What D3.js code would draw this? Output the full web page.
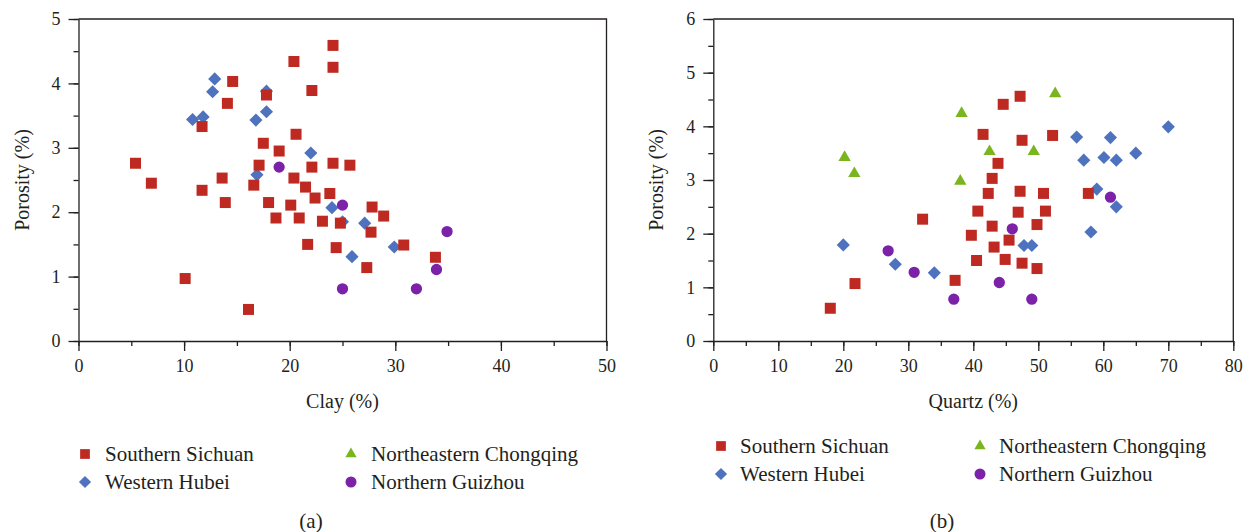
<!DOCTYPE html>
<html>
<head>
<meta charset="utf-8">
<script src="https://cdn.jsdelivr.net/npm/d3@7"></script>
<style>
  html, body { margin: 0; padding: 0; background: #fff; }
  svg { display: block; font-family: 'Liberation Serif', 'Times New Roman', serif; }
  svg text { font-family: 'Liberation Serif', 'Times New Roman', serif !important; fill: #231f20; }
</style>
</head>
<body>
<svg id="chart" width="1251" height="532"></svg>
<script>
// ---------------- DATA ----------------
const seriesNames = ["Southern Sichuan", "Western Hubei", "Northeastern Chongqing", "Northern Guizhou"];

// Panel (a): [clay %, porosity %]
const clayPorositySouthernSichuan = [
  [5.4,2.76],[6.9,2.45],[10.1,0.97],[11.7,3.33],[11.7,2.34],[13.6,2.53],[13.9,2.15],[14.1,3.69],
  [14.6,4.03],[16.1,0.49],[16.6,2.42],[17.1,2.73],[17.5,3.07],[17.8,3.82],[18.0,2.15],[18.7,1.91],
  [19.0,2.95],[20.1,2.11],[20.4,4.34],[20.4,2.53],[20.6,3.21],[20.9,1.91],[21.5,2.39],[21.7,1.50],
  [22.1,3.89],[22.1,2.70],[22.4,2.22],[23.1,1.86],[23.8,2.29],[24.1,4.59],[24.1,4.25],[24.1,2.76],
  [24.4,1.45],[24.8,1.83],[25.7,2.73],[27.3,1.14],[27.7,1.69],[27.8,2.08],[28.9,1.94],[30.8,1.49],
  [33.8,1.30]
];
const clayPorosityWesternHubei = [
  [10.8,3.44],[11.8,3.48],[12.7,3.87],[12.9,4.07],[16.8,3.43],[16.9,2.58],[17.8,3.88],[17.8,3.56],
  [22.0,2.92],[24.0,2.07],[25.0,1.85],[25.9,1.31],[27.1,1.83],[29.9,1.46]
];
const clayPorosityNortheasternChongqing = [];
const clayPorosityNorthernGuizhou = [
  [19.0,2.70],[25.0,2.11],[25.0,0.81],[32.0,0.81],[33.9,1.11],[34.9,1.70]
];

// Panel (b): [quartz %, porosity %]
const quartzPorositySouthernSichuan = [
  [18.0,0.61],[21.8,1.07],[32.2,2.27],[37.2,1.13],[39.7,1.97],[40.5,1.50],[40.7,2.42],[41.5,3.85],
  [42.3,2.75],[42.9,3.03],[42.9,2.14],[43.2,1.75],[43.8,3.31],[44.6,4.41],[44.9,1.52],[45.5,1.88],
  [46.9,2.40],[47.2,4.56],[47.2,2.79],[47.5,3.74],[47.5,1.45],[49.8,2.17],[49.8,1.35],[50.8,2.75],
  [51.1,2.42],[52.2,3.83],[57.7,2.75]
];
const quartzPorosityWesternHubei = [
  [20.0,1.79],[28.0,1.43],[34.0,1.27],[47.8,1.78],[49.0,1.78],[55.9,3.80],[57.0,3.37],[58.1,2.03],
  [59.0,2.83],[60.1,3.42],[61.1,3.79],[62.0,3.37],[62.0,2.50],[65.0,3.50],[70.0,3.99]
];
const quartzPorosityNortheasternChongqing = [
  [20.2,3.42],[21.7,3.12],[38.0,2.98],[38.2,4.24],[42.5,3.53],[49.3,3.53],[52.6,4.61]
];
const quartzPorosityNorthernGuizhou = [
  [26.9,1.68],[30.9,1.28],[37.0,0.78],[44.0,1.09],[46.0,2.09],[49.0,0.78],[61.1,2.68]
];

// Tick values
const clayTicks = [0, 10, 20, 30, 40, 50];
const quartzTicks = [0, 10, 20, 30, 40, 50, 60, 70, 80];
const porosityTicksA = [0, 1, 2, 3, 4, 5];
const porosityTicksB = [0, 1, 2, 3, 4, 5, 6];

// ---------------- STYLE ----------------
const FONT = "'Liberation Serif', 'Times New Roman', serif";
const colors = {
  "Southern Sichuan": "#be2a22",
  "Western Hubei": "#4e72be",
  "Northeastern Chongqing": "#7ab51e",
  "Northern Guizhou": "#7b22a8"
};
const symbols = {
  "Southern Sichuan": d3.symbolSquare,
  "Western Hubei": d3.symbolDiamond2,
  "Northeastern Chongqing": d3.symbolTriangle,
  "Northern Guizhou": d3.symbolCircle
};
const symSize = {
  "Southern Sichuan": 121,
  "Western Hubei": 110,
  "Northeastern Chongqing": 66,
  "Northern Guizhou": 100
};
const drawOrder = ["Western Hubei", "Southern Sichuan", "Northeastern Chongqing", "Northern Guizhou"];

const svg = d3.select("#chart");
const axisColor = "#231f20";

function panel(cfg) {
  const x = d3.scaleLinear().domain(cfg.xDomain).range([cfg.left, cfg.right]);
  const y = d3.scaleLinear().domain(cfg.yDomain).range([cfg.bottom, cfg.top]);
  const g = svg.append("g");

  // frame (top & right)
  g.append("path")
    .attr("d", `M${cfg.left},${cfg.top}H${cfg.right}V${cfg.bottom}`)
    .attr("fill", "none").attr("stroke", axisColor).attr("stroke-width", 1.3);

  // minor ticks
  const xMinor = d3.range(cfg.xDomain[0], cfg.xDomain[1] + 0.001, cfg.xMinorStep);
  const yMinor = d3.range(cfg.yDomain[0], cfg.yDomain[1] + 0.001, cfg.yMinorStep);

  const xAxis = d3.axisBottom(x).tickValues(xMinor).tickSize(5).tickFormat("");
  const yAxis = d3.axisLeft(y).tickValues(yMinor).tickSize(5).tickFormat("");
  g.append("g").attr("transform", `translate(0,${cfg.bottom})`).call(xAxis).call(s => s.select(".domain").remove())
    .selectAll("line").attr("stroke", axisColor).attr("stroke-width", 1.3);
  g.append("g").attr("transform", `translate(${cfg.left},0)`).call(yAxis).call(s => s.select(".domain").remove())
    .selectAll("line").attr("stroke", axisColor).attr("stroke-width", 1.3);

  // major ticks + labels
  const fmt = d3.format("d");
  const xMaj = g.append("g").attr("transform", `translate(0,${cfg.bottom})`)
    .call(d3.axisBottom(x).tickValues(cfg.xTicks).tickFormat(fmt).tickSize(10).tickPadding(8).tickSizeOuter(0));
  const yMaj = g.append("g").attr("transform", `translate(${cfg.left},0)`)
    .call(d3.axisLeft(y).tickValues(cfg.yTicks).tickFormat(fmt).tickSize(10).tickPadding(8).tickSizeOuter(0));
  [xMaj, yMaj].forEach(a => {
    a.attr("font-family", FONT).attr("font-size", 18);
    a.select(".domain").attr("stroke", axisColor).attr("stroke-width", 1.3);
    a.selectAll("line").attr("stroke", axisColor).attr("stroke-width", 1.3);
    a.selectAll("text").attr("font-family", FONT).attr("font-size", 18).attr("fill", "#231f20");
  });

  // axis titles
  g.append("text").attr("x", (cfg.left + cfg.right) / 2).attr("y", cfg.bottom + 67)
    .attr("text-anchor", "middle").attr("font-family", FONT).attr("font-size", 20).text(cfg.xTitle);
  g.append("text").attr("transform", `translate(${cfg.yTitleX},${(cfg.top + cfg.bottom) / 2}) rotate(-90)`)
    .attr("text-anchor", "middle").attr("dominant-baseline", "central").attr("font-family", FONT)
    .attr("font-size", 20).text(cfg.yTitle);

  // points
  drawOrder.forEach(name => {
    const data = cfg.data[name];
    g.append("g").selectAll("path").data(data).join("path")
      .attr("transform", d => `translate(${x(d[0])},${y(d[1])})`)
      .attr("d", d3.symbol().type(symbols[name]).size(symSize[name]))
      .attr("fill", colors[name]);
  });

  // legend
  const lg = g.append("g");
  const cols = [cfg.legendCol1, cfg.legendCol2];
  const legendOrder = [["Southern Sichuan", 0, 0], ["Northeastern Chongqing", 1, 0], ["Western Hubei", 0, 1], ["Northern Guizhou", 1, 1]];
  legendOrder.forEach(([name, c, r]) => {
    const yy = cfg.legendY + r * cfg.legendGap;
    lg.append("path").attr("transform", `translate(${cols[c]},${yy})`)
      .attr("d", d3.symbol().type(symbols[name]).size(name === "Northeastern Chongqing" ? 55 : 95))
      .attr("fill", colors[name]);
    lg.append("text").attr("x", cols[c] + cfg.legendTextDx).attr("y", yy)
      .attr("dominant-baseline", "central").attr("font-family", FONT).attr("font-size", 21).text(name);
  });

  // caption
  g.append("text").attr("x", cfg.captionX).attr("y", 521).attr("text-anchor", "middle")
    .attr("dominant-baseline", "central").attr("font-family", FONT).attr("font-size", 21).text(cfg.caption);
}

panel({
  left: 78.5, right: 606.5, top: 19, bottom: 341,
  xDomain: [0, 50], yDomain: [0, 5], xMinorStep: 5, yMinorStep: 0.5,
  xTicks: clayTicks, yTicks: porosityTicksA,
  xTitle: "Clay (%)", yTitle: "Porosity (%)", yTitleX: 22,
  data: {
    "Southern Sichuan": clayPorositySouthernSichuan,
    "Western Hubei": clayPorosityWesternHubei,
    "Northeastern Chongqing": clayPorosityNortheasternChongqing,
    "Northern Guizhou": clayPorosityNorthernGuizhou
  },
  legendCol1: 85, legendCol2: 351, legendTextDx: 20, legendY: 454, legendGap: 28,
  caption: "(a)", captionX: 311
});

panel({
  left: 713.3, right: 1233.3, top: 19, bottom: 341,
  xDomain: [0, 80], yDomain: [0, 6], xMinorStep: 5, yMinorStep: 0.5,
  xTicks: quartzTicks, yTicks: porosityTicksB,
  xTitle: "Quartz (%)", yTitle: "Porosity (%)", yTitleX: 656,
  data: {
    "Southern Sichuan": quartzPorositySouthernSichuan,
    "Western Hubei": quartzPorosityWesternHubei,
    "Northeastern Chongqing": quartzPorosityNortheasternChongqing,
    "Northern Guizhou": quartzPorosityNorthernGuizhou
  },
  legendCol1: 721, legendCol2: 980, legendTextDx: 19, legendY: 446, legendGap: 28,
  caption: "(b)", captionX: 942
});
</script>
</body>
</html>
